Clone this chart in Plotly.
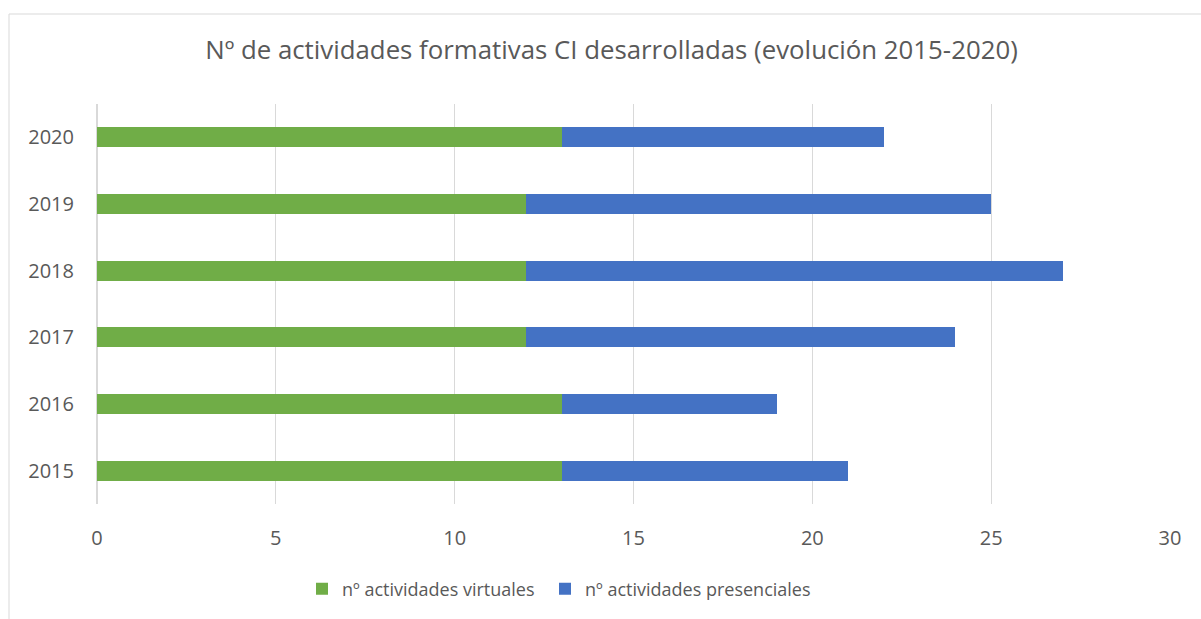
import plotly.graph_objects as go

years = ["2015", "2016", "2017", "2018", "2019", "2020"]
virtuales = [13, 13, 12, 12, 12, 13]
presenciales = [8, 6, 12, 15, 13, 9]
x_ticks = [0, 5, 10, 15, 20, 25, 30]

font_fam = "Open Sans, Liberation Sans, sans-serif"
txt_col = "#595959"

L, R, T, B = 97, 31, 104, 115
PW = 1201 - L - R
PH = 619 - T - B

def px_x(p):
    return (p - L) / PW

def px_y(p):
    return (619 - B - p) / PH

fig = go.Figure()
fig.add_trace(go.Bar(y=years, x=virtuales, orientation="h", name="nº actividades virtuales",
                     marker=dict(color="#70ad47", line=dict(width=0)), width=0.3, legend="legend"))
fig.add_trace(go.Bar(y=years, x=presenciales, orientation="h", name="nº actividades presenciales",
                     marker=dict(color="#4472c4", line=dict(width=0)), width=0.3, legend="legend2"))

leg_common = dict(orientation="h", yanchor="middle", xanchor="left",
                  font=dict(size=18, color=txt_col), itemwidth=30,
                  bgcolor="rgba(0,0,0,0)")

fig.update_layout(
    barmode="stack",
    width=1201, height=619,
    margin=dict(l=L, r=R, t=T, b=B),
    paper_bgcolor="white", plot_bgcolor="white",
    font=dict(family=font_fam, color=txt_col, size=20),
    title=dict(text="Nº de actividades formativas CI desarrolladas (evolución 2015-2020)",
               xref="paper", x=px_x(611.5), xanchor="center", y=1 - 50/619, yanchor="middle",
               font=dict(size=25.8, color=txt_col, family=font_fam)),
    xaxis=dict(range=[0, 30], tickvals=x_ticks, showgrid=True, gridcolor="#d9d9d9", gridwidth=1,
               zeroline=True, zerolinecolor="#d9d9d9", showline=False, ticklabelstandoff=20,
               tickfont=dict(size=20, color=txt_col), fixedrange=True),
    yaxis=dict(categoryorder="array", categoryarray=years, showgrid=False, showline=False,
               ticklabelstandoff=22, tickfont=dict(size=20, color=txt_col), fixedrange=True),
    legend=dict(x=px_x(302), y=px_y(589), **leg_common),
    legend2=dict(x=px_x(545), y=px_y(589), **leg_common),
    showlegend=True,
    shapes=[dict(type="rect", xref="paper", yref="paper", x0=px_x(9), x1=1.2,
                 y0=-1, y1=px_y(14), line=dict(color="#d9d9d9", width=1), fillcolor="rgba(0,0,0,0)",
                 layer="below")],
)

fig.write_html("out.html", config={"displayModeBar": False},
               post_script="document.body.style.margin='0';document.body.style.overflow='hidden';")
